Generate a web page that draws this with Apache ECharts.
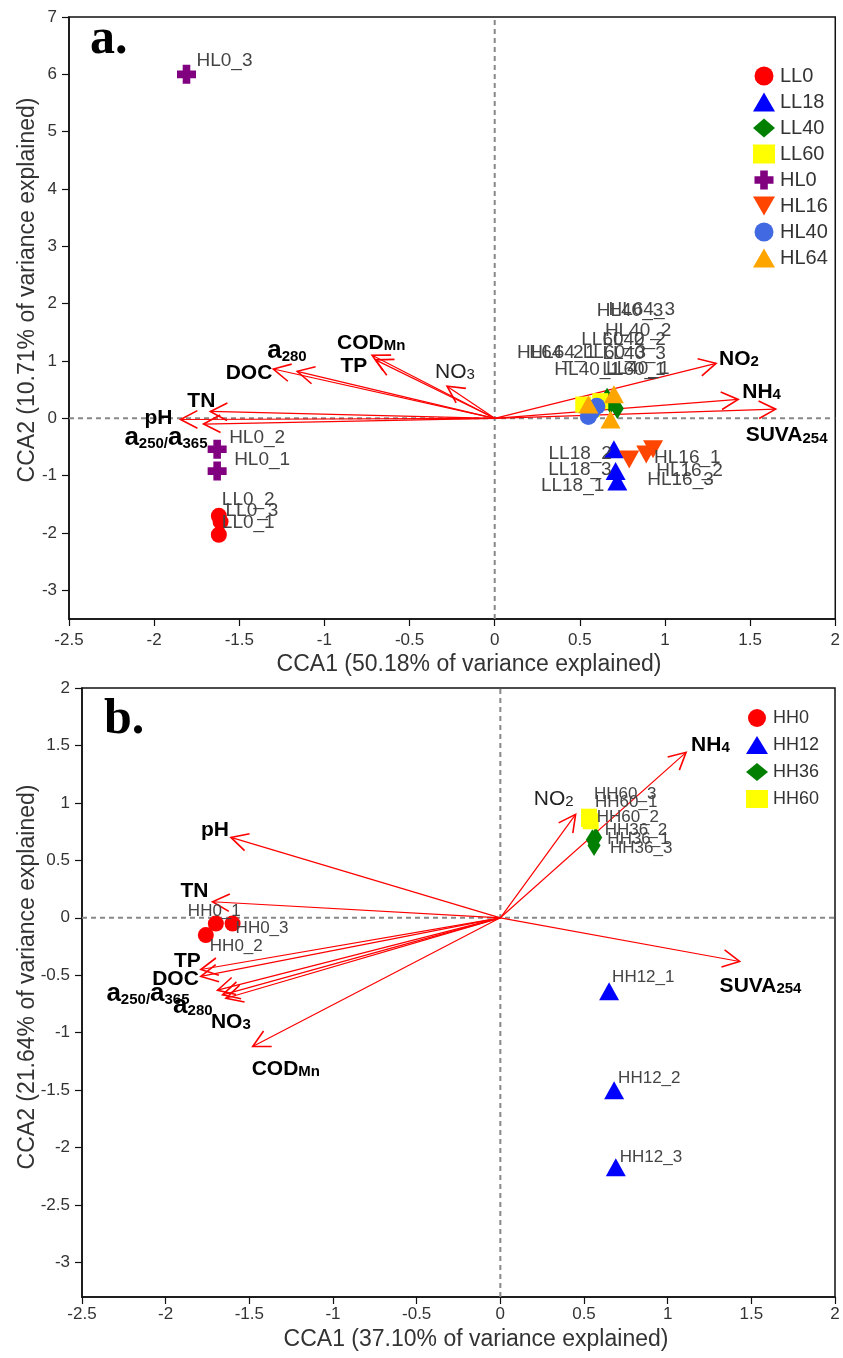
<!DOCTYPE html>
<html><head><meta charset="utf-8">
<script src="https://cdn.jsdelivr.net/npm/echarts@6/dist/echarts.min.js"></script>
<style>html,body{margin:0;padding:0;background:#fff}#c{width:843px;height:1358px}</style>
</head><body><div id="c"></div>
<script>
const FONT = 'Liberation Sans, Arial, sans-serif';

// ---------- Panel a data ----------
const aGroups = ['LL0','LL18','LL40','LL60','HL0','HL16','HL40','HL64'];
const aLL0  = [[-1.62,-2.03],[-1.62,-1.70],[-1.61,-1.80]];
const aLL18 = [[0.72,-1.10],[0.70,-0.54],[0.71,-0.92]];
const aLL40 = [[0.66,0.35],[0.72,0.17],[0.68,0.26]];
const aLL60 = [[0.52,0.24],[0.62,0.30],[0.57,0.16]];
const aHL0  = [[-1.63,-0.92],[-1.63,-0.54],[-1.81,6.0]];
const aHL16 = [[0.93,-0.54],[0.89,-0.63],[0.79,-0.72]];
const aHL40 = [[0.55,0.03],[0.60,0.21],[0.57,0.12]];
const aHL64 = [[0.55,0.24],[0.70,0.42],[0.68,-0.02]];
const aArrowNames = ['NO2','NH4','SUVA254','pH','a250/a365','TN','DOC','a280','CODMn','TP','NO3'];
const aArrowX = [1.30, 1.43, 1.65, -1.845, -1.71, -1.67, -1.30, -1.16, -0.72, -0.70, -0.28];
const aArrowY = [0.96, 0.33, 0.16, -0.02, -0.10, 0.12, 0.86, 0.82, 1.10, 1.02, 0.56];
const aXTicks = [-2.5,-2,-1.5,-1,-0.5,0,0.5,1,1.5,2];
const aYTicks = [-3,-2,-1,0,1,2,3,4,5,6,7];

// ---------- Panel b data ----------
const bGroups = ['HH0','HH12','HH36','HH60'];
const bHH0  = [[-1.70,-0.05],[-1.76,-0.15],[-1.60,-0.05]];
const bHH12 = [[0.65,-0.64],[0.68,-1.50],[0.69,-2.17]];
const bHH36 = [[0.55,0.68],[0.57,0.70],[0.56,0.63]];
const bHH60 = [[0.53,0.86],[0.54,0.84],[0.53,0.88]];
const bArrowNames = ['NH4','NO2','SUVA254','pH','TN','TP','DOC','a250/a365','a280','NO3','CODMn'];
const bArrowX = [1.11, 0.45, 1.43, -1.61, -1.72, -1.79, -1.79, -1.69, -1.66, -1.64, -1.48];
const bArrowY = [1.44, 0.90, -0.38, 0.70, 0.14, -0.45, -0.51, -0.63, -0.67, -0.70, -1.12];
const bXTicks = [-2.5,-2,-1.5,-1,-0.5,0,0.5,1,1.5,2];
const bYTicks = [-3,-2.5,-2,-1.5,-1,-0.5,0,0.5,1,1.5,2];

// ---------- styles ----------
const PLUS = 'path://M3,0H7V3H10V7H7V10H3V7H0V3H3Z';
const DOWN = 'path://M0,0H10L5,8.66Z';
const STY = {
  LL0:{symbol:'circle', size:16, color:'#FF0000'},
  LL18:{symbol:'triangle', size:[20,18], color:'#0000FF'},
  LL40:{symbol:'diamond', size:[13,21], color:'#007F00'},
  LL60:{symbol:'rect', size:16, color:'#FFFF00'},
  HL0:{symbol:PLUS, size:19, color:'#800080'},
  HL16:{symbol:DOWN, size:[20,18], color:'#FF4500'},
  HL40:{symbol:'circle', size:17, color:'#4169E1'},
  HL64:{symbol:'triangle', size:[20,18], color:'#FFA500'},
  HH0:{symbol:'circle', size:16, color:'#FF0000'},
  HH12:{symbol:'triangle', size:[20,18], color:'#0000FF'},
  HH36:{symbol:'diamond', size:[13,21], color:'#007F00'},
  HH60:{symbol:'rect', size:16, color:'#FFFF00'}
};
// label placement (pixel offsets from the mark centre)
const PT_LAB = {
  HL0_3:[10,-14], HL0_2:[12,-12], HL0_1:[17,-11],
  LL0_2:[3,-16], LL0_3:[5,-11], LL0_1:[3,-12],
  LL18_2:[-2,4,'right'], LL18_3:[-4,-1,'right'], LL18_1:[-13,4,'right'],
  HL16_1:[1,8], HL16_2:[10,16], HL16_3:[18,20],
  HL40_3:[5,-101], HL64_3:[-2,-110], HL40_2:[8,-76], LL60_2:[-19,-61], LL40_2:[-15,-69],
  HL64_2:[-97,-41], HL64_1:[-59,-52], LL60_3:[-9,-56], LL40_3:[-8,-50],
  HL40_1:[-34,-47], LL60_1:[19,-35], LL40_1:[-1,-30],
  HH0_1:[-28,-12], HH0_2:[4,11], HH0_3:[3,5],
  HH12_1:[3,-14], HH12_2:[4,-12], HH12_3:[4,-10],
  HH36_1:[15,0], HH36_2:[9,-7], HH36_3:[16,3],
  HH60_1:[6,-17], HH60_2:[6,-4], HH60_3:[5,-22]
};
const AR_LAB_A = {
  NO2:[3,-7,'left'], NH4:[4,-10,'left'], SUVA254:[-30,24,'left'], pH:[-8,-4,'right'],
  'a250/a365':[4,14,'right'], TN:[5,-13,'right'], DOC:[-1,2,'right'], a280:[-30,-20,'left'],
  CODMn:[-35,-15,'left'], TP:[-35,4,'left'], NO3:[-12,-17,'left']
};
const AR_LAB_B = {
  NH4:[5,-10,'left'], NO2:[-2,-18,'right'], SUVA254:[-20,22,'left'], pH:[-2,-10,'right'],
  TN:[-4,-13,'right'], TP:[0,-11,'right'], DOC:[-2,0,'right'], 'a250/a365':[-28,4,'right'],
  a280:[-10,11,'right'], NO3:[-15,21,'left'], CODMn:[-1,20,'left']
};
const PLAIN_A = {NO3:true};
const PLAIN_B = {NO2:true};

function richText(name, plain) {
  const B = plain ? 'n' : 'b', S = plain ? 'ns' : 's', A = plain ? 'n' : 'a';
  const map = {
    NO2:`{${B}|NO}{${S}|2}`, NO3:`{${B}|NO}{${S}|3}`, NH4:`{${B}|NH}{${S}|4}`,
    SUVA254:`{${B}|SUVA}{${S}|254}`, 'a250/a365':`{${A}|a}{${S}|250/}{${A}|a}{${S}|365}`,
    a280:`{${A}|a}{${S}|280}`, CODMn:`{${B}|COD}{${S}|Mn}`
  };
  return map[name] || `{${B}|${name}}`;
}
const RICH = {
  b:{fontFamily:FONT, fontWeight:'bold', fontSize:21, fill:'#000', lineHeight:26, verticalAlign:'bottom'},
  a:{fontFamily:FONT, fontWeight:'bold', fontSize:26, fill:'#000', lineHeight:26, verticalAlign:'bottom'},
  s:{fontFamily:FONT, fontWeight:'bold', fontSize:15, fill:'#000', lineHeight:19, verticalAlign:'bottom'},
  n:{fontFamily:FONT, fontWeight:'normal', fontSize:21, fill:'#222', lineHeight:26, verticalAlign:'bottom'},
  ns:{fontFamily:FONT, fontWeight:'normal', fontSize:15, fill:'#222', lineHeight:19, verticalAlign:'bottom'}
};

function pointSeries(gi, name, pts, fs) {
  const s = STY[name];
  return {
    type:'scatter', name, xAxisIndex:gi, yAxisIndex:gi, z:4,
    symbol:s.symbol, symbolSize:s.size, itemStyle:{color:s.color, opacity:1},
    emphasis:{disabled:true},
    label:{show:true, formatter:'{b}', position:'inside', align:'left', verticalAlign:'middle',
           fontFamily:FONT, fontSize:fs, color:'#444'},
    data: pts.map((p,i) => {
      const n = name + '_' + (i+1);
      const o = PT_LAB[n] || [6,-12];
      return {name:n, value:p, label:{offset:[o[0],o[1]], align:o[2] || 'left'}};
    })
  };
}

function arrowSeries(gi, names, xs, ys, labPos, plain) {
  return {
    type:'custom', xAxisIndex:gi, yAxisIndex:gi, z:3, silent:true,
    data: xs.map((x,i) => [x, ys[i]]),
    encode:{x:0, y:1},
    renderItem:(params, api) => {
      const name = names[params.dataIndex];
      const o = api.coord([0,0]);
      const t = api.coord([api.value(0), api.value(1)]);
      const ang = Math.atan2(t[1]-o[1], t[0]-o[0]);
      const L = 19, A = 0.48;
      const p1 = [t[0]-L*Math.cos(ang-A), t[1]-L*Math.sin(ang-A)];
      const p2 = [t[0]-L*Math.cos(ang+A), t[1]-L*Math.sin(ang+A)];
      const lp = labPos[name];
      return {type:'group', children:[
        {type:'line', shape:{x1:o[0], y1:o[1], x2:t[0], y2:t[1]}, style:{stroke:'#FF0000', lineWidth:1.2, fill:null}},
        {type:'polyline', shape:{points:[p1, t, p2]}, style:{stroke:'#FF0000', lineWidth:1.6, fill:null}},
        {type:'text', x:t[0]+lp[0], y:t[1]+lp[1], z2:10,
         style:{text:richText(name, plain[name]), rich:RICH, align:lp[2], verticalAlign:'middle'}}
      ]};
    }
  };
}

function zeroLines(gi, xr, yr) {
  const ls = {color:'#888', width:2, type:[5,4]};
  return [
    {type:'line', xAxisIndex:gi, yAxisIndex:gi, data:[[0,yr[0]],[0,yr[1]]], symbol:'none', silent:true, z:1, lineStyle:ls},
    {type:'line', xAxisIndex:gi, yAxisIndex:gi, data:[[xr[0],0],[xr[1],0]], symbol:'none', silent:true, z:1, lineStyle:ls}
  ];
}

function xAxisCfg(gi, ticks, margin) {
  return {gridIndex:gi, type:'value', min:ticks[0], max:ticks[ticks.length-1], interval:0.5,
    axisLine:{onZero:false, lineStyle:{color:'#111', width:1.5}},
    axisTick:{length:7, lineStyle:{color:'#111', width:1.2}},
    axisLabel:{fontFamily:FONT, fontSize:17, color:'#333', margin},
    splitLine:{show:false}};
}
function yAxisCfg(gi, min, max, ticks) {
  return {gridIndex:gi, type:'value', min, max,
    axisLine:{onZero:false, lineStyle:{color:'#111', width:1.5}},
    axisTick:{length:7, customValues:ticks, lineStyle:{color:'#111', width:1.2}},
    axisLabel:{fontFamily:FONT, fontSize:17, color:'#333', margin:12, customValues:ticks},
    splitLine:{show:false}};
}

const aPts = {LL0:aLL0, LL18:aLL18, LL40:aLL40, LL60:aLL60, HL0:aHL0, HL16:aHL16, HL40:aHL40, HL64:aHL64};
const bPts = {HH0:bHH0, HH12:bHH12, HH36:bHH36, HH60:bHH60};

const series = [].concat(
  zeroLines(0, [-2.5,2], [-3.5,7]),
  zeroLines(1, [-2.5,2], [-3.3,2]),
  [arrowSeries(0, aArrowNames, aArrowX, aArrowY, AR_LAB_A, PLAIN_A),
   arrowSeries(1, bArrowNames, bArrowX, bArrowY, AR_LAB_B, PLAIN_B)],
  aGroups.map(g => pointSeries(0, g, aPts[g], 19)),
  bGroups.map(g => pointSeries(1, g, bPts[g], 17))
);

const option = {
  animation:false,
  backgroundColor:'#fff',
  grid:[
    {left:69, top:17, width:767, height:602, show:true, borderColor:'#111', borderWidth:1.5},
    {left:82, top:688, width:753, height:609, show:true, borderColor:'#111', borderWidth:1.5}
  ],
  xAxis:[xAxisCfg(0, aXTicks, 13), xAxisCfg(1, bXTicks, 9)],
  yAxis:[yAxisCfg(0, -3.5, 7, aYTicks), yAxisCfg(1, -3.3, 2, bYTicks)],
  legend:[
    {data:aGroups, orient:'vertical', left:748, top:61, itemWidth:22, itemHeight:19, itemGap:6,
     textStyle:{fontFamily:FONT, fontSize:20, color:'#333'}, selectedMode:false},
    {data:bGroups, orient:'vertical', left:741, top:704, itemWidth:22, itemHeight:18, itemGap:9,
     textStyle:{fontFamily:FONT, fontSize:18, color:'#333'}, selectedMode:false}
  ],
  graphic:[
    {type:'text', x:90, y:40, style:{text:'a.', font:'bold 50px "Liberation Serif", serif', fill:'#000', verticalAlign:'middle'}},
    {type:'text', x:104, y:720, style:{text:'b.', font:'bold 50px "Liberation Serif", serif', fill:'#000', verticalAlign:'middle'}},
    {type:'text', x:469, y:665, style:{text:'CCA1 (50.18% of variance explained)', font:'23px "Liberation Sans", Arial', fill:'#333', align:'center', verticalAlign:'middle'}},
    {type:'text', x:476, y:1340, style:{text:'CCA1 (37.10% of variance explained)', font:'23px "Liberation Sans", Arial', fill:'#333', align:'center', verticalAlign:'middle'}},
    {type:'text', x:28, y:290, rotation:Math.PI/2, style:{text:'CCA2 (10.71% of variance explained)', font:'23px "Liberation Sans", Arial', fill:'#333', align:'center', verticalAlign:'middle'}},
    {type:'text', x:28, y:977, rotation:Math.PI/2, style:{text:'CCA2 (21.64% of variance explained)', font:'23px "Liberation Sans", Arial', fill:'#333', align:'center', verticalAlign:'middle'}}
  ],
  series
};
const chart = echarts.init(document.getElementById('c'), null, {renderer:'canvas'});
chart.setOption(option);
</script>
</body></html>
